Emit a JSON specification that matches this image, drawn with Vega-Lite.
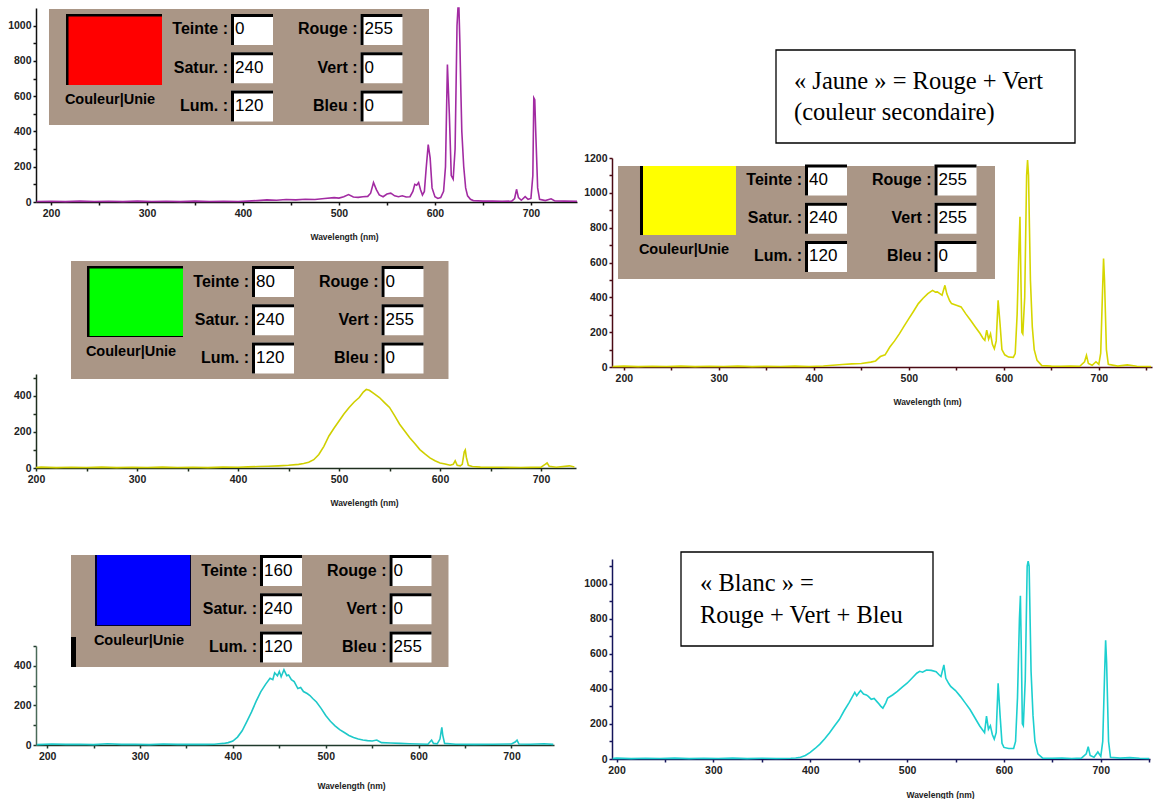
{
"$schema":"https://vega.github.io/schema/vega-lite/v6.json",
"background":"white",
"padding":{"left":7,"top":4,"right":0,"bottom":0},
"config":{"view":{"stroke":null}},
"datasets":{
"red":[{"wl":185,"v":3},{"wl":200,"v":4},{"wl":215,"v":2},{"wl":230,"v":5},{"wl":245,"v":3},{"wl":260,"v":4},{"wl":275,"v":2},{"wl":290,"v":5},{"wl":305,"v":3},{"wl":320,"v":4},{"wl":335,"v":2},{"wl":350,"v":5},{"wl":365,"v":3},{"wl":380,"v":4},{"wl":395,"v":3},{"wl":405,"v":5},{"wl":415,"v":8},{"wl":425,"v":12},{"wl":435,"v":10},{"wl":445,"v":14},{"wl":455,"v":12},{"wl":465,"v":16},{"wl":475,"v":14},{"wl":485,"v":20},{"wl":495,"v":25},{"wl":500,"v":22},{"wl":505,"v":30},{"wl":510,"v":42},{"wl":515,"v":28},{"wl":520,"v":26},{"wl":525,"v":30},{"wl":530,"v":32},{"wl":533,"v":50},{"wl":536,"v":110},{"wl":539,"v":70},{"wl":542,"v":40},{"wl":546,"v":30},{"wl":550,"v":45},{"wl":554,"v":50},{"wl":558,"v":35},{"wl":562,"v":30},{"wl":566,"v":35},{"wl":570,"v":28},{"wl":574,"v":30},{"wl":577,"v":60},{"wl":579,"v":100},{"wl":581,"v":95},{"wl":583,"v":110},{"wl":585,"v":70},{"wl":587,"v":40},{"wl":589,"v":60},{"wl":591,"v":200},{"wl":593,"v":325},{"wl":595,"v":250},{"wl":597,"v":80},{"wl":600,"v":30},{"wl":603,"v":20},{"wl":606,"v":25},{"wl":609,"v":60},{"wl":611,"v":200},{"wl":613,"v":780},{"wl":615,"v":500},{"wl":617,"v":150},{"wl":619,"v":130},{"wl":621,"v":300},{"wl":623,"v":1000},{"wl":624,"v":1100},{"wl":625,"v":1100},{"wl":626,"v":900},{"wl":627,"v":630},{"wl":628,"v":400},{"wl":630,"v":200},{"wl":632,"v":80},{"wl":634,"v":35},{"wl":637,"v":15},{"wl":640,"v":8},{"wl":650,"v":5},{"wl":660,"v":6},{"wl":670,"v":4},{"wl":680,"v":5},{"wl":683,"v":20},{"wl":685,"v":72},{"wl":687,"v":25},{"wl":690,"v":10},{"wl":694,"v":30},{"wl":697,"v":15},{"wl":700,"v":20},{"wl":702,"v":150},{"wl":703,"v":590},{"wl":704,"v":580},{"wl":705,"v":400},{"wl":707,"v":80},{"wl":709,"v":15},{"wl":715,"v":8},{"wl":721,"v":18},{"wl":725,"v":6},{"wl":735,"v":5},{"wl":748,"v":4}],
"green":[{"wl":200,"v":3},{"wl":205,"v":5},{"wl":220,"v":2},{"wl":235,"v":4},{"wl":250,"v":3},{"wl":265,"v":5},{"wl":280,"v":2},{"wl":295,"v":4},{"wl":310,"v":3},{"wl":325,"v":5},{"wl":340,"v":3},{"wl":355,"v":4},{"wl":370,"v":2},{"wl":385,"v":5},{"wl":400,"v":4},{"wl":410,"v":6},{"wl":420,"v":8},{"wl":430,"v":10},{"wl":440,"v":12},{"wl":450,"v":15},{"wl":460,"v":20},{"wl":465,"v":25},{"wl":470,"v":32},{"wl":475,"v":46},{"wl":480,"v":75},{"wl":485,"v":120},{"wl":490,"v":177},{"wl":495,"v":220},{"wl":500,"v":260},{"wl":505,"v":300},{"wl":510,"v":335},{"wl":515,"v":365},{"wl":520,"v":390},{"wl":524,"v":420},{"wl":527,"v":435},{"wl":530,"v":430},{"wl":535,"v":410},{"wl":540,"v":390},{"wl":545,"v":362},{"wl":550,"v":335},{"wl":555,"v":290},{"wl":560,"v":242},{"wl":565,"v":205},{"wl":570,"v":167},{"wl":575,"v":135},{"wl":580,"v":102},{"wl":585,"v":78},{"wl":590,"v":56},{"wl":595,"v":40},{"wl":600,"v":28},{"wl":605,"v":22},{"wl":610,"v":15},{"wl":613,"v":20},{"wl":615,"v":40},{"wl":617,"v":15},{"wl":620,"v":12},{"wl":622,"v":20},{"wl":624,"v":90},{"wl":625,"v":100},{"wl":626,"v":60},{"wl":628,"v":15},{"wl":632,"v":8},{"wl":640,"v":5},{"wl":660,"v":4},{"wl":680,"v":3},{"wl":700,"v":5},{"wl":704,"v":20},{"wl":706,"v":28},{"wl":708,"v":10},{"wl":715,"v":4},{"wl":728,"v":12},{"wl":733,"v":5}],
"blue":[{"wl":189,"v":2},{"wl":205,"v":5},{"wl":220,"v":3},{"wl":235,"v":4},{"wl":250,"v":2},{"wl":265,"v":6},{"wl":280,"v":3},{"wl":295,"v":4},{"wl":310,"v":2},{"wl":325,"v":5},{"wl":340,"v":3},{"wl":355,"v":4},{"wl":370,"v":3},{"wl":380,"v":4},{"wl":385,"v":6},{"wl":390,"v":8},{"wl":395,"v":12},{"wl":400,"v":20},{"wl":405,"v":40},{"wl":410,"v":72},{"wl":415,"v":118},{"wl":420,"v":166},{"wl":425,"v":220},{"wl":430,"v":268},{"wl":435,"v":305},{"wl":440,"v":337},{"wl":443,"v":330},{"wl":445,"v":365},{"wl":448,"v":350},{"wl":450,"v":372},{"wl":452,"v":345},{"wl":455,"v":380},{"wl":458,"v":350},{"wl":460,"v":354},{"wl":463,"v":330},{"wl":466,"v":320},{"wl":470,"v":285},{"wl":473,"v":290},{"wl":476,"v":270},{"wl":480,"v":260},{"wl":483,"v":250},{"wl":486,"v":235},{"wl":490,"v":217},{"wl":495,"v":185},{"wl":500,"v":149},{"wl":505,"v":120},{"wl":510,"v":97},{"wl":515,"v":78},{"wl":520,"v":63},{"wl":525,"v":48},{"wl":530,"v":38},{"wl":535,"v":30},{"wl":540,"v":25},{"wl":545,"v":22},{"wl":550,"v":20},{"wl":555,"v":25},{"wl":560,"v":12},{"wl":570,"v":10},{"wl":580,"v":8},{"wl":590,"v":6},{"wl":600,"v":5},{"wl":610,"v":4},{"wl":614,"v":25},{"wl":616,"v":8},{"wl":620,"v":6},{"wl":623,"v":30},{"wl":625,"v":89},{"wl":626,"v":50},{"wl":628,"v":8},{"wl":640,"v":4},{"wl":660,"v":3},{"wl":680,"v":4},{"wl":700,"v":5},{"wl":704,"v":15},{"wl":706,"v":25},{"wl":708,"v":5},{"wl":720,"v":4},{"wl":735,"v":6},{"wl":745,"v":3}],
"yellow":[{"wl":188,"v":3},{"wl":200,"v":5},{"wl":215,"v":2},{"wl":230,"v":4},{"wl":245,"v":3},{"wl":260,"v":5},{"wl":275,"v":2},{"wl":290,"v":4},{"wl":305,"v":3},{"wl":320,"v":5},{"wl":335,"v":2},{"wl":350,"v":4},{"wl":365,"v":3},{"wl":380,"v":5},{"wl":395,"v":3},{"wl":410,"v":6},{"wl":420,"v":10},{"wl":430,"v":14},{"wl":440,"v":18},{"wl":450,"v":20},{"wl":460,"v":28},{"wl":465,"v":35},{"wl":470,"v":60},{"wl":475,"v":70},{"wl":480,"v":115},{"wl":485,"v":150},{"wl":490,"v":190},{"wl":495,"v":235},{"wl":500,"v":278},{"wl":505,"v":320},{"wl":510,"v":364},{"wl":515,"v":395},{"wl":520,"v":421},{"wl":525,"v":440},{"wl":528,"v":430},{"wl":530,"v":431},{"wl":533,"v":420},{"wl":535,"v":412},{"wl":538,"v":469},{"wl":540,"v":420},{"wl":543,"v":380},{"wl":545,"v":364},{"wl":550,"v":355},{"wl":555,"v":345},{"wl":560,"v":305},{"wl":565,"v":268},{"wl":570,"v":230},{"wl":575,"v":192},{"wl":578,"v":165},{"wl":580,"v":153},{"wl":582,"v":211},{"wl":584,"v":160},{"wl":586,"v":190},{"wl":588,"v":130},{"wl":590,"v":105},{"wl":592,"v":150},{"wl":594,"v":383},{"wl":596,"v":250},{"wl":598,"v":100},{"wl":601,"v":70},{"wl":605,"v":57},{"wl":610,"v":55},{"wl":612,"v":77},{"wl":614,"v":300},{"wl":616,"v":700},{"wl":617,"v":862},{"wl":618,"v":500},{"wl":619,"v":200},{"wl":620,"v":190},{"wl":622,"v":400},{"wl":624,"v":1100},{"wl":625,"v":1188},{"wl":626,"v":1100},{"wl":627,"v":800},{"wl":628,"v":500},{"wl":630,"v":230},{"wl":632,"v":100},{"wl":635,"v":38},{"wl":640,"v":8},{"wl":650,"v":5},{"wl":660,"v":4},{"wl":670,"v":6},{"wl":680,"v":4},{"wl":685,"v":30},{"wl":687,"v":67},{"wl":689,"v":20},{"wl":693,"v":10},{"wl":697,"v":30},{"wl":700,"v":15},{"wl":702,"v":80},{"wl":704,"v":450},{"wl":705,"v":623},{"wl":706,"v":500},{"wl":708,"v":100},{"wl":710,"v":15},{"wl":720,"v":5},{"wl":730,"v":12},{"wl":740,"v":4},{"wl":755,"v":3}],
"white":[{"wl":196,"v":3},{"wl":200,"v":5},{"wl":215,"v":2},{"wl":230,"v":4},{"wl":245,"v":3},{"wl":260,"v":5},{"wl":275,"v":2},{"wl":290,"v":4},{"wl":305,"v":3},{"wl":320,"v":5},{"wl":335,"v":2},{"wl":350,"v":4},{"wl":365,"v":3},{"wl":380,"v":4},{"wl":385,"v":6},{"wl":390,"v":10},{"wl":395,"v":20},{"wl":400,"v":38},{"wl":405,"v":60},{"wl":410,"v":85},{"wl":415,"v":115},{"wl":420,"v":150},{"wl":425,"v":188},{"wl":430,"v":225},{"wl":435,"v":275},{"wl":440,"v":320},{"wl":443,"v":350},{"wl":446,"v":380},{"wl":448,"v":360},{"wl":450,"v":376},{"wl":452,"v":390},{"wl":455,"v":370},{"wl":458,"v":365},{"wl":460,"v":357},{"wl":463,"v":340},{"wl":466,"v":345},{"wl":470,"v":320},{"wl":473,"v":300},{"wl":475,"v":290},{"wl":478,"v":320},{"wl":480,"v":348},{"wl":485,"v":365},{"wl":490,"v":385},{"wl":495,"v":410},{"wl":500,"v":432},{"wl":505,"v":460},{"wl":510,"v":489},{"wl":513,"v":500},{"wl":516,"v":495},{"wl":520,"v":507},{"wl":525,"v":505},{"wl":530,"v":498},{"wl":533,"v":480},{"wl":535,"v":470},{"wl":538,"v":536},{"wl":540,"v":460},{"wl":543,"v":430},{"wl":545,"v":414},{"wl":550,"v":390},{"wl":555,"v":357},{"wl":560,"v":320},{"wl":565,"v":282},{"wl":570,"v":235},{"wl":575,"v":188},{"wl":578,"v":165},{"wl":580,"v":150},{"wl":582,"v":244},{"wl":584,"v":170},{"wl":586,"v":190},{"wl":588,"v":140},{"wl":590,"v":113},{"wl":592,"v":150},{"wl":594,"v":432},{"wl":596,"v":250},{"wl":598,"v":90},{"wl":600,"v":66},{"wl":605,"v":60},{"wl":610,"v":60},{"wl":612,"v":100},{"wl":614,"v":350},{"wl":616,"v":800},{"wl":617,"v":930},{"wl":618,"v":600},{"wl":619,"v":200},{"wl":620,"v":190},{"wl":622,"v":450},{"wl":624,"v":1100},{"wl":625,"v":1128},{"wl":626,"v":1100},{"wl":627,"v":800},{"wl":628,"v":500},{"wl":630,"v":250},{"wl":632,"v":100},{"wl":635,"v":30},{"wl":640,"v":5},{"wl":650,"v":4},{"wl":660,"v":5},{"wl":670,"v":3},{"wl":680,"v":5},{"wl":685,"v":30},{"wl":687,"v":70},{"wl":689,"v":20},{"wl":693,"v":10},{"wl":697,"v":40},{"wl":700,"v":15},{"wl":702,"v":100},{"wl":704,"v":500},{"wl":705,"v":677},{"wl":706,"v":550},{"wl":708,"v":100},{"wl":710,"v":10},{"wl":720,"v":5},{"wl":730,"v":8},{"wl":740,"v":4},{"wl":750,"v":3}],
"fields":[
{"panel":"red","col":1,"row":1,"label":"Teinte :","value":"0"},{"panel":"red","col":1,"row":2,"label":"Satur. :","value":"240"},{"panel":"red","col":1,"row":3,"label":"Lum. :","value":"120"},{"panel":"red","col":2,"row":1,"label":"Rouge :","value":"255"},{"panel":"red","col":2,"row":2,"label":"Vert :","value":"0"},{"panel":"red","col":2,"row":3,"label":"Bleu :","value":"0"},
{"panel":"green","col":1,"row":1,"label":"Teinte :","value":"80"},{"panel":"green","col":1,"row":2,"label":"Satur. :","value":"240"},{"panel":"green","col":1,"row":3,"label":"Lum. :","value":"120"},{"panel":"green","col":2,"row":1,"label":"Rouge :","value":"0"},{"panel":"green","col":2,"row":2,"label":"Vert :","value":"255"},{"panel":"green","col":2,"row":3,"label":"Bleu :","value":"0"},
{"panel":"blue","col":1,"row":1,"label":"Teinte :","value":"160"},{"panel":"blue","col":1,"row":2,"label":"Satur. :","value":"240"},{"panel":"blue","col":1,"row":3,"label":"Lum. :","value":"120"},{"panel":"blue","col":2,"row":1,"label":"Rouge :","value":"0"},{"panel":"blue","col":2,"row":2,"label":"Vert :","value":"0"},{"panel":"blue","col":2,"row":3,"label":"Bleu :","value":"255"},
{"panel":"yellow","col":1,"row":1,"label":"Teinte :","value":"40"},{"panel":"yellow","col":1,"row":2,"label":"Satur. :","value":"240"},{"panel":"yellow","col":1,"row":3,"label":"Lum. :","value":"120"},{"panel":"yellow","col":2,"row":1,"label":"Rouge :","value":"255"},{"panel":"yellow","col":2,"row":2,"label":"Vert :","value":"255"},{"panel":"yellow","col":2,"row":3,"label":"Bleu :","value":"0"}],
"jaune":[{"line":1,"text":"« Jaune » = Rouge + Vert"},{"line":2,"text":"(couleur secondaire)"}],
"blanc":[{"line":1,"text":"« Blanc » ="},{"line":2,"text":"Rouge + Vert + Bleu"}]
},
"spacing":2,
"hconcat":[
{"spacing":20,"vconcat":[
{"width":541,"height":194,
"resolve":{"scale":{"x":"independent","y":"independent"}},
"layer":[
{"data":{"name":"red"},"mark":{"type":"line","color":"#a22ba2","strokeWidth":1.6},
"encoding":{
"x":{"field":"wl","type":"quantitative","scale":{"domain":[184.4,748],"nice":false,"zero":false},"axis":{"values":[200,250,300,350,400,450,500,550,600,650,700],"labelExpr":"datum.value % 100 == 0 ? datum.label : ''","format":"d","title":"Wavelength (nm)","titleX":308,"titlePadding":14,"titleFont":"Liberation Sans","titleFontSize":8.5,"titleFontWeight":"bold","titleColor":"#222","domainColor":"#111","domainWidth":1.5,"tickColor":"#111","tickSize":3,"tickWidth":1.5,"labelFont":"Liberation Sans","labelFontSize":10.5,"labelFontWeight":"bold","labelColor":"#222","labelPadding":3,"labelFlush":false,"labelOverlap":false,"grid":false}},
"y":{"field":"v","type":"quantitative","scale":{"domain":[0,1100],"nice":false},"axis":{"values":[0,100,200,300,400,500,600,700,800,900,1000],"labelExpr":"datum.value % 200 == 0 ? datum.label : ''","format":"d","title":null,"domainColor":"#111","domainWidth":1.5,"tickColor":"#111","tickSize":3,"tickWidth":1.5,"labelFont":"Liberation Sans","labelFontSize":10.5,"labelFontWeight":"bold","labelColor":"#222","labelPadding":2,"labelFlush":false,"labelOverlap":false,"grid":false}}}},
{"layer":[
{"data":{"values":[{}]},"mark":{"type":"rect","color":"#aa9686"},"encoding":{"x":{"datum":-0.5676,"type":"quantitative","scale":{"domain":[-0.66795,3.50966],"nice":false,"zero":false},"axis":null},"x2":{"datum":2.3668},"y":{"datum":0.4641,"type":"quantitative","scale":{"domain":[0.43791,5.50981],"nice":false,"zero":false,"reverse":true},"axis":null},"y2":{"datum":3.4967}}},
{"data":{"values":[{}]},"mark":{"type":"rect","color":"#000000"},"encoding":{"x":{"datum":-0.4363,"type":"quantitative","scale":{"domain":[-0.66795,3.50966],"nice":false,"zero":false},"axis":null},"x2":{"datum":0.305},"y":{"datum":0.5948,"type":"quantitative","scale":{"domain":[0.43791,5.50981],"nice":false,"zero":false,"reverse":true},"axis":null},"y2":{"datum":2.451}}},
{"data":{"values":[{}]},"mark":{"type":"rect","color":"#ff0000"},"encoding":{"x":{"datum":-0.417,"type":"quantitative","scale":{"domain":[-0.66795,3.50966],"nice":false,"zero":false},"axis":null},"x2":{"datum":0.305},"y":{"datum":0.6601,"type":"quantitative","scale":{"domain":[0.43791,5.50981],"nice":false,"zero":false,"reverse":true},"axis":null},"y2":{"datum":2.451}}},
{"data":{"values":[{}]},"mark":{"type":"text","text":"Couleur|Unie","font":"Liberation Sans","fontSize":14.5,"fontWeight":"bold","color":"#000","align":"center","baseline":"middle"},"encoding":{"x":{"datum":-0.0965,"type":"quantitative","scale":{"domain":[-0.66795,3.50966],"nice":false,"zero":false},"axis":null},"y":{"datum":2.8431,"type":"quantitative","scale":{"domain":[0.43791,5.50981],"nice":false,"zero":false,"reverse":true},"axis":null}}},
{"data":{"name":"fields"},"transform":[{"filter":"datum.panel == 'red'"}],
"encoding":{"x":{"field":"col","type":"quantitative","scale":{"domain":[-0.66795,3.50966],"nice":false,"zero":false},"axis":null},"y":{"field":"row","type":"quantitative","scale":{"domain":[0.43791,5.50981],"nice":false,"zero":false,"reverse":true},"axis":null}},
"layer":[
{"mark":{"type":"point","shape":"M-1,-0.738H1V0.738H-1Z","size":1764,"filled":true,"color":"#ffffff","opacity":1}},
{"mark":{"type":"point","shape":"M-1,-0.738H1V-0.595H-0.857V0.738H-1Z","size":1764,"filled":true,"color":"#000000","opacity":1}},
{"mark":{"type":"text","align":"right","baseline":"middle","dx":-24,"font":"Liberation Sans","fontSize":16,"fontWeight":"bold","color":"#000"},"encoding":{"text":{"field":"label"}}},
{"mark":{"type":"text","align":"left","baseline":"middle","dx":-17,"font":"Liberation Sans","fontSize":17,"color":"#000"},"encoding":{"text":{"field":"value"}}}
]}
]}
]},
{"spacing":48,"vconcat":[
{"width":540,"height":94,
"resolve":{"scale":{"x":"independent","y":"independent"}},
"layer":[
{"data":{"name":"green"},"mark":{"type":"line","color":"#cfcf00","strokeWidth":1.6},
"encoding":{
"x":{"field":"wl","type":"quantitative","scale":{"domain":[200,734.6],"nice":false,"zero":false},"axis":{"values":[200,250,300,350,400,450,500,550,600,650,700],"labelExpr":"datum.value % 100 == 0 ? datum.label : ''","format":"d","title":"Wavelength (nm)","titleX":328,"titlePadding":14,"titleFont":"Liberation Sans","titleFontSize":8.5,"titleFontWeight":"bold","titleColor":"#222","domainColor":"#1e2e1e","domainWidth":1.5,"tickColor":"#1e2e1e","tickSize":3,"tickWidth":1.5,"labelFont":"Liberation Sans","labelFontSize":10.5,"labelFontWeight":"bold","labelColor":"#222","labelPadding":3,"labelFlush":false,"labelOverlap":false,"grid":false}},
"y":{"field":"v","type":"quantitative","scale":{"domain":[0,520],"nice":false},"axis":{"values":[0,100,200,300,400,500],"labelExpr":"datum.value % 200 == 0 ? datum.label : ''","format":"d","title":null,"domainColor":"#1e2e1e","domainWidth":1.5,"tickColor":"#1e2e1e","tickSize":3,"tickWidth":1.5,"labelFont":"Liberation Sans","labelFontSize":10.5,"labelFontWeight":"bold","labelColor":"#222","labelPadding":2,"labelFlush":false,"labelOverlap":false,"grid":false}}}},
{"layer":[
{"data":{"values":[{}]},"mark":{"type":"rect","color":"#aa9686"},"encoding":{"x":{"datum":-0.5598,"type":"quantitative","scale":{"domain":[-0.83012,3.33976],"nice":false,"zero":false},"axis":null},"x2":{"datum":2.3552},"y":{"datum":0.4641,"type":"quantitative","scale":{"domain":[3.4183,5.87582],"nice":false,"zero":false,"reverse":true},"axis":null},"y2":{"datum":3.549}}},
{"data":{"values":[{}]},"mark":{"type":"rect","color":"#000000"},"encoding":{"x":{"datum":-0.4363,"type":"quantitative","scale":{"domain":[-0.83012,3.33976],"nice":false,"zero":false},"axis":null},"x2":{"datum":0.305},"y":{"datum":0.5948,"type":"quantitative","scale":{"domain":[3.4183,5.87582],"nice":false,"zero":false,"reverse":true},"axis":null},"y2":{"datum":2.451}}},
{"data":{"values":[{}]},"mark":{"type":"rect","color":"#00ff00"},"encoding":{"x":{"datum":-0.417,"type":"quantitative","scale":{"domain":[-0.83012,3.33976],"nice":false,"zero":false},"axis":null},"x2":{"datum":0.305},"y":{"datum":0.6601,"type":"quantitative","scale":{"domain":[3.4183,5.87582],"nice":false,"zero":false,"reverse":true},"axis":null},"y2":{"datum":2.425}}},
{"data":{"values":[{}]},"mark":{"type":"text","text":"Couleur|Unie","font":"Liberation Sans","fontSize":14.5,"fontWeight":"bold","color":"#000","align":"center","baseline":"middle"},"encoding":{"x":{"datum":-0.0965,"type":"quantitative","scale":{"domain":[-0.83012,3.33976],"nice":false,"zero":false},"axis":null},"y":{"datum":2.8431,"type":"quantitative","scale":{"domain":[3.4183,5.87582],"nice":false,"zero":false,"reverse":true},"axis":null}}},
{"data":{"name":"fields"},"transform":[{"filter":"datum.panel == 'green'"}],
"encoding":{"x":{"field":"col","type":"quantitative","scale":{"domain":[-0.83012,3.33976],"nice":false,"zero":false},"axis":null},"y":{"field":"row","type":"quantitative","scale":{"domain":[3.4183,5.87582],"nice":false,"zero":false,"reverse":true},"axis":null}},
"layer":[
{"mark":{"type":"point","shape":"M-1,-0.738H1V0.738H-1Z","size":1764,"filled":true,"color":"#ffffff","opacity":1}},
{"mark":{"type":"point","shape":"M-1,-0.738H1V-0.595H-0.857V0.738H-1Z","size":1764,"filled":true,"color":"#000000","opacity":1}},
{"mark":{"type":"text","align":"right","baseline":"middle","dx":-24,"font":"Liberation Sans","fontSize":16,"fontWeight":"bold","color":"#000"},"encoding":{"text":{"field":"label"}}},
{"mark":{"type":"text","align":"left","baseline":"middle","dx":-17,"font":"Liberation Sans","fontSize":17,"color":"#000"},"encoding":{"text":{"field":"value"}}}
]}
]}
]},
{"width":518,"height":99,
"resolve":{"scale":{"x":"independent","y":"independent"}},
"layer":[
{"data":{"name":"blue"},"mark":{"type":"line","color":"#1ec8c8","strokeWidth":1.6},
"encoding":{
"x":{"field":"wl","type":"quantitative","scale":{"domain":[188,745.8],"nice":false,"zero":false},"axis":{"values":[200,250,300,350,400,450,500,550,600,650,700],"labelExpr":"datum.value % 100 == 0 ? datum.label : ''","format":"d","title":"Wavelength (nm)","titleX":315,"titlePadding":20,"titleFont":"Liberation Sans","titleFontSize":8.5,"titleFontWeight":"bold","titleColor":"#222","domainColor":"#203a2c","domainWidth":1.5,"tickColor":"#203a2c","tickSize":3,"tickWidth":1.5,"labelFont":"Liberation Sans","labelFontSize":10.5,"labelFontWeight":"bold","labelColor":"#222","labelPadding":3,"labelFlush":false,"labelOverlap":false,"grid":false}},
"y":{"field":"v","type":"quantitative","scale":{"domain":[0,500],"nice":false},"axis":{"values":[0,100,200,300,400,500],"labelExpr":"datum.value % 200 == 0 ? datum.label : ''","format":"d","title":null,"domainColor":"#4a6a58","domainWidth":1.5,"tickColor":"#203a2c","tickSize":3,"tickWidth":1.5,"labelFont":"Liberation Sans","labelFontSize":10.5,"labelFontWeight":"bold","labelColor":"#222","labelPadding":2,"labelFlush":false,"labelOverlap":false,"grid":false}}}},
{"layer":[
{"data":{"values":[{}]},"mark":{"type":"rect","color":"#aa9686"},"encoding":{"x":{"datum":-0.6216,"type":"quantitative","scale":{"domain":[-0.89189,3.10811],"nice":false,"zero":false},"axis":null},"x2":{"datum":2.2934},"y":{"datum":0.5948,"type":"quantitative","scale":{"domain":[2.97386,5.5621],"nice":false,"zero":false,"reverse":true},"axis":null},"y2":{"datum":3.5229}}},
{"data":{"values":[{}]},"mark":{"type":"rect","color":"#000000"},"encoding":{"x":{"datum":-0.6216,"type":"quantitative","scale":{"domain":[-0.89189,3.10811],"nice":false,"zero":false},"axis":null},"x2":{"datum":-0.583},"y":{"datum":2.7386,"type":"quantitative","scale":{"domain":[2.97386,5.5621],"nice":false,"zero":false,"reverse":true},"axis":null},"y2":{"datum":3.5229}}},
{"data":{"values":[{}]},"mark":{"type":"rect","color":"#000030"},"encoding":{"x":{"datum":-0.4363,"type":"quantitative","scale":{"domain":[-0.89189,3.10811],"nice":false,"zero":false},"axis":null},"x2":{"datum":0.305},"y":{"datum":0.5948,"type":"quantitative","scale":{"domain":[2.97386,5.5621],"nice":false,"zero":false,"reverse":true},"axis":null},"y2":{"datum":2.451}}},
{"data":{"values":[{}]},"mark":{"type":"rect","color":"#0000ff"},"encoding":{"x":{"datum":-0.4209,"type":"quantitative","scale":{"domain":[-0.89189,3.10811],"nice":false,"zero":false},"axis":null},"x2":{"datum":0.2973},"y":{"datum":0.5948,"type":"quantitative","scale":{"domain":[2.97386,5.5621],"nice":false,"zero":false,"reverse":true},"axis":null},"y2":{"datum":2.4248}}},
{"data":{"values":[{}]},"mark":{"type":"text","text":"Couleur|Unie","font":"Liberation Sans","fontSize":14.5,"fontWeight":"bold","color":"#000","align":"center","baseline":"middle"},"encoding":{"x":{"datum":-0.0965,"type":"quantitative","scale":{"domain":[-0.89189,3.10811],"nice":false,"zero":false},"axis":null},"y":{"datum":2.8431,"type":"quantitative","scale":{"domain":[2.97386,5.5621],"nice":false,"zero":false,"reverse":true},"axis":null}}},
{"data":{"name":"fields"},"transform":[{"filter":"datum.panel == 'blue'"}],
"encoding":{"x":{"field":"col","type":"quantitative","scale":{"domain":[-0.89189,3.10811],"nice":false,"zero":false},"axis":null},"y":{"field":"row","type":"quantitative","scale":{"domain":[2.97386,5.5621],"nice":false,"zero":false,"reverse":true},"axis":null}},
"layer":[
{"mark":{"type":"point","shape":"M-1,-0.738H1V0.738H-1Z","size":1764,"filled":true,"color":"#ffffff","opacity":1}},
{"mark":{"type":"point","shape":"M-1,-0.738H1V-0.595H-0.857V0.738H-1Z","size":1764,"filled":true,"color":"#000000","opacity":1}},
{"mark":{"type":"text","align":"right","baseline":"middle","dx":-24,"font":"Liberation Sans","fontSize":16,"fontWeight":"bold","color":"#000"},"encoding":{"text":{"field":"label"}}},
{"mark":{"type":"text","align":"left","baseline":"middle","dx":-17,"font":"Liberation Sans","fontSize":17,"color":"#000"},"encoding":{"text":{"field":"value"}}}
]}
]}
]}
]}
]},
{"spacing":0,"vconcat":[
{"width":2,"height":41,"data":{"values":[{}]},"mark":{"type":"point","opacity":0}},
{"spacing":145,"vconcat":[
{"width":540,"height":209,
"resolve":{"scale":{"x":"independent","y":"independent"}},
"layer":[
{"data":{"name":"yellow"},"mark":{"type":"line","color":"#d6d600","strokeWidth":1.6},
"encoding":{
"x":{"field":"wl","type":"quantitative","scale":{"domain":[187.5,756],"nice":false,"zero":false},"axis":{"values":[200,250,300,350,400,450,500,550,600,650,700,750],"labelExpr":"datum.value % 100 == 0 ? datum.label : ''","format":"d","title":"Wavelength (nm)","titleX":315,"titlePadding":14,"titleFont":"Liberation Sans","titleFontSize":8.5,"titleFontWeight":"bold","titleColor":"#222","domainColor":"#4a0a14","domainWidth":1.5,"tickColor":"#4a0a14","tickSize":3,"tickWidth":1.5,"labelFont":"Liberation Sans","labelFontSize":10.5,"labelFontWeight":"bold","labelColor":"#222","labelPadding":3,"labelFlush":false,"labelOverlap":false,"grid":false}},
"y":{"field":"v","type":"quantitative","scale":{"domain":[0,1200],"nice":false},"axis":{"values":[0,100,200,300,400,500,600,700,800,900,1000,1100,1200],"labelExpr":"datum.value % 200 == 0 ? datum.label : ''","format":"d","title":null,"domainColor":"#4a0a14","domainWidth":1.5,"tickColor":"#4a0a14","tickSize":3,"tickWidth":1.5,"labelFont":"Liberation Sans","labelFontSize":10.5,"labelFontWeight":"bold","labelColor":"#222","labelPadding":2,"labelFlush":false,"labelOverlap":false,"grid":false}}}},
{"layer":[
{"data":{"values":[{}]},"mark":{"type":"rect","color":"#aa9686"},"encoding":{"x":{"datum":-0.6062,"type":"quantitative","scale":{"domain":[-0.65251,3.51737],"nice":false,"zero":false},"axis":null},"x2":{"datum":2.305},"y":{"datum":0.634,"type":"quantitative","scale":{"domain":[0.42484,5.88889],"nice":false,"zero":false,"reverse":true},"axis":null},"y2":{"datum":3.5882}}},
{"data":{"values":[{}]},"mark":{"type":"rect","color":"#000000"},"encoding":{"x":{"datum":-0.4363,"type":"quantitative","scale":{"domain":[-0.65251,3.51737],"nice":false,"zero":false},"axis":null},"x2":{"datum":0.305},"y":{"datum":0.634,"type":"quantitative","scale":{"domain":[0.42484,5.88889],"nice":false,"zero":false,"reverse":true},"axis":null},"y2":{"datum":2.438}}},
{"data":{"values":[{}]},"mark":{"type":"rect","color":"#ffff00"},"encoding":{"x":{"datum":-0.4131,"type":"quantitative","scale":{"domain":[-0.65251,3.51737],"nice":false,"zero":false},"axis":null},"x2":{"datum":0.305},"y":{"datum":0.634,"type":"quantitative","scale":{"domain":[0.42484,5.88889],"nice":false,"zero":false,"reverse":true},"axis":null},"y2":{"datum":2.438}}},
{"data":{"values":[{}]},"mark":{"type":"text","text":"Couleur|Unie","font":"Liberation Sans","fontSize":14.5,"fontWeight":"bold","color":"#000","align":"center","baseline":"middle"},"encoding":{"x":{"datum":-0.0965,"type":"quantitative","scale":{"domain":[-0.65251,3.51737],"nice":false,"zero":false},"axis":null},"y":{"datum":2.8431,"type":"quantitative","scale":{"domain":[0.42484,5.88889],"nice":false,"zero":false,"reverse":true},"axis":null}}},
{"data":{"name":"fields"},"transform":[{"filter":"datum.panel == 'yellow'"}],
"encoding":{"x":{"field":"col","type":"quantitative","scale":{"domain":[-0.65251,3.51737],"nice":false,"zero":false},"axis":null},"y":{"field":"row","type":"quantitative","scale":{"domain":[0.42484,5.88889],"nice":false,"zero":false,"reverse":true},"axis":null}},
"layer":[
{"mark":{"type":"point","shape":"M-1,-0.738H1V0.738H-1Z","size":1764,"filled":true,"color":"#ffffff","opacity":1}},
{"mark":{"type":"point","shape":"M-1,-0.738H1V-0.595H-0.857V0.738H-1Z","size":1764,"filled":true,"color":"#000000","opacity":1}},
{"mark":{"type":"text","align":"right","baseline":"middle","dx":-24,"font":"Liberation Sans","fontSize":16,"fontWeight":"bold","color":"#000"},"encoding":{"text":{"field":"label"}}},
{"mark":{"type":"text","align":"left","baseline":"middle","dx":-17,"font":"Liberation Sans","fontSize":17,"color":"#000"},"encoding":{"text":{"field":"value"}}}
]}
]},
{"layer":[
{"data":{"values":[{}]},"mark":{"type":"rect","fill":"#ffffff","stroke":"#000000","strokeWidth":1.3},"encoding":{"x":{"datum":0,"type":"quantitative","scale":{"domain":[-0.54849,1.25753],"nice":false,"zero":false},"axis":null},"x2":{"datum":1},"y":{"datum":-0.01613,"type":"quantitative","scale":{"domain":[3.46774,10.20968],"nice":false,"zero":false,"reverse":true},"axis":null},"y2":{"datum":2.98387}}},
{"data":{"name":"jaune"},"mark":{"type":"text","align":"left","baseline":"middle","font":"Liberation Serif","fontSize":24.5,"color":"#000"},"encoding":{"x":{"datum":0.0602,"type":"quantitative","scale":{"domain":[-0.54849,1.25753],"nice":false,"zero":false},"axis":null},"y":{"field":"line","type":"quantitative","scale":{"domain":[3.46774,10.20968],"nice":false,"zero":false,"reverse":true},"axis":null},"text":{"field":"text"}}}
]}
]},
{"width":538,"height":200,
"resolve":{"scale":{"x":"independent","y":"independent"}},
"layer":[
{"data":{"name":"white"},"mark":{"type":"line","color":"#1ccfcf","strokeWidth":1.6},
"encoding":{
"x":{"field":"wl","type":"quantitative","scale":{"domain":[195.35,750.8],"nice":false,"zero":false},"axis":{"values":[200,250,300,350,400,450,500,550,600,650,700,750],"labelExpr":"datum.value % 100 == 0 ? datum.label : ''","format":"d","title":"Wavelength (nm)","titleX":328,"titlePadding":15,"titleFont":"Liberation Sans","titleFontSize":8.5,"titleFontWeight":"bold","titleColor":"#222","domainColor":"#14145a","domainWidth":1.5,"tickColor":"#14145a","tickSize":3,"tickWidth":1.5,"labelFont":"Liberation Sans","labelFontSize":10.5,"labelFontWeight":"bold","labelColor":"#222","labelPadding":3,"labelFlush":false,"labelOverlap":false,"grid":false}},
"y":{"field":"v","type":"quantitative","scale":{"domain":[0,1140],"nice":false},"axis":{"values":[0,100,200,300,400,500,600,700,800,900,1000,1100],"labelExpr":"datum.value % 200 == 0 ? datum.label : ''","format":"d","title":null,"domainColor":"#14145a","domainWidth":1.5,"tickColor":"#14145a","tickSize":3,"tickWidth":1.5,"labelFont":"Liberation Sans","labelFontSize":10.5,"labelFontWeight":"bold","labelColor":"#222","labelPadding":2,"labelFlush":false,"labelOverlap":false,"grid":false}}}},
{"layer":[
{"data":{"values":[{}]},"mark":{"type":"rect","fill":"#ffffff","stroke":"#000000","strokeWidth":1.3},"encoding":{"x":{"datum":0,"type":"quantitative","scale":{"domain":[-0.27381,1.86111],"nice":false,"zero":false},"axis":null},"x2":{"datum":1},"y":{"datum":0,"type":"quantitative","scale":{"domain":[0.21875,6.46875],"nice":false,"zero":false,"reverse":true},"axis":null},"y2":{"datum":2.9375}}},
{"data":{"name":"blanc"},"mark":{"type":"text","align":"left","baseline":"middle","font":"Liberation Serif","fontSize":24.5,"color":"#000"},"encoding":{"x":{"datum":0.0754,"type":"quantitative","scale":{"domain":[-0.27381,1.86111],"nice":false,"zero":false},"axis":null},"y":{"field":"line","type":"quantitative","scale":{"domain":[0.21875,6.46875],"nice":false,"zero":false,"reverse":true},"axis":null},"text":{"field":"text"}}}
]}
]}
]}
]}
]
}
